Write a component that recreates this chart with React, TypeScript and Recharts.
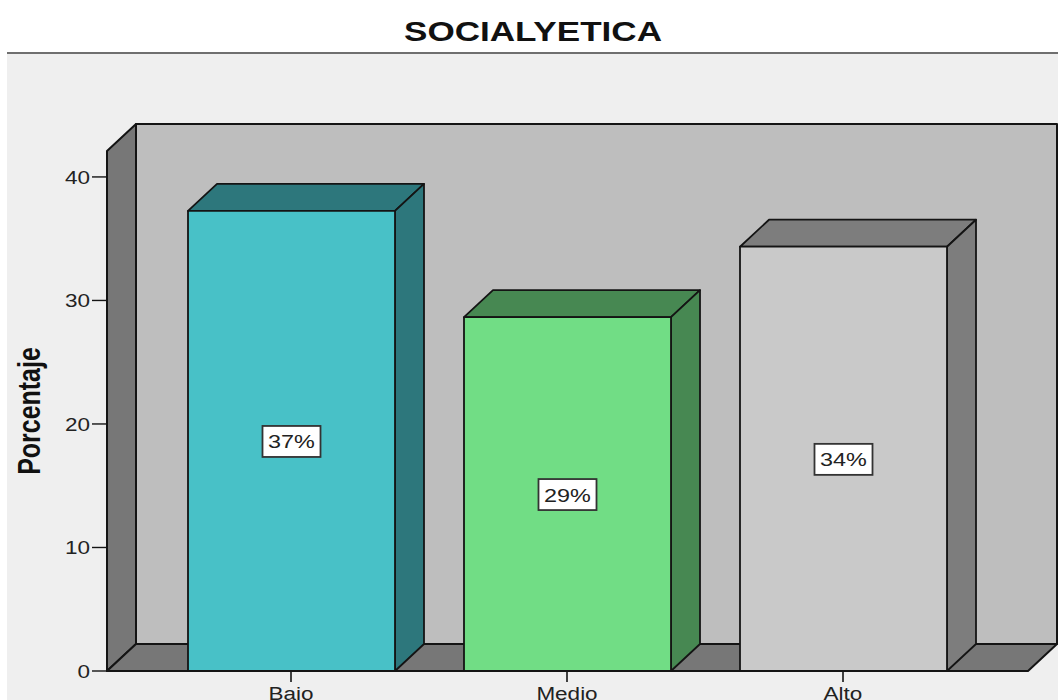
import { BarChart, Bar, XAxis, YAxis, LabelList, ReferenceArea } from "recharts";

const TITLE = "SOCIALYETICA";
const AXIS_LABEL = "Porcentaje";
const categories = ["Bajo", "Medio", "Alto"];
const values = [37.25, 28.65, 34.35];
const valueLabels = ["37%", "29%", "34%"];
const yTicks = [0, 10, 20, 30, 40];

const frontColors = ["#48c1c7", "#71dd85", "#c9c9c9"];
const sideColors = ["#2d777c", "#478852", "#7d7d7d"];

const data = categories.map((name, i) => ({ name, value: values[i], label: valueLabels[i] }));

const DX = 29;
const DY = 27;
const PAD_LEFT = 46;
const PAD_RIGHT = 47;
const LINE = "#141414";
const FONT = "'Liberation Sans', Arial, sans-serif";

// the reference area only spans the padded range, so widen it back to the full plot
function Walls({ x: ax, y, width: aw, height }: any) {
  const x = ax - PAD_LEFT;
  const width = aw + PAD_LEFT + PAD_RIGHT;
  const right = x + width;
  const bottom = y + height;
  return (
    <g stroke={LINE} strokeWidth={2} strokeLinejoin="round">
      <rect x={x + DX} y={y - DY} width={width} height={height} fill="#bebebe" />
      <polygon
        points={`${x},${y} ${x + DX},${y - DY} ${x + DX},${bottom - DY} ${x},${bottom}`}
        fill="#777777"
      />
      <polygon
        points={`${x},${bottom} ${x + DX},${bottom - DY} ${right + DX},${bottom - DY} ${right},${bottom}`}
        fill="#777777"
      />
    </g>
  );
}

function Bar3D({ x, y, width, height, index }: any) {
  return (
    <g stroke={LINE} strokeWidth={1.8} strokeLinejoin="round">
      <polygon
        points={`${x},${y} ${x + DX},${y - DY} ${x + width + DX},${y - DY} ${x + width},${y}`}
        fill={sideColors[index]}
      />
      <polygon
        points={`${x + width},${y} ${x + width + DX},${y - DY} ${x + width + DX},${y + height - DY} ${x + width},${y + height}`}
        fill={sideColors[index]}
      />
      <rect x={x} y={y} width={width} height={height} fill={frontColors[index]} />
    </g>
  );
}

function ValueBox({ x, y, width, height, value }: any) {
  const cx = x + width / 2;
  const cy = y + height / 2;
  return (
    <g>
      <rect x={cx - 29} y={cy - 15} width={58} height={31} fill="#ffffff" stroke="#333333" strokeWidth={1.8} />
      <text
        transform={`translate(${cx},${cy + 7.5}) scale(1.3,1)`}
        textAnchor="middle"
        fontFamily={FONT}
        fontSize={18}
        fill="#222222"
      >
        {value}
      </text>
    </g>
  );
}

function YTick({ x, y, payload }: any) {
  return (
    <text
      transform={`translate(${x},${y + 7}) scale(1.25,1)`}
      textAnchor="end"
      fontFamily={FONT}
      fontSize={18}
      fill="#222222"
    >
      {payload.value}
    </text>
  );
}

function XTick({ x, y, payload }: any) {
  return (
    <text
      transform={`translate(${x},${y + 16}) scale(1.25,1)`}
      textAnchor="middle"
      fontFamily={FONT}
      fontSize={18}
      fill="#222222"
    >
      {payload.value}
    </text>
  );
}

function AxisTitle({ viewBox }: any) {
  const cy = viewBox.y + viewBox.height / 2;
  return (
    <text
      transform={`translate(40,${cy}) rotate(-90) scale(0.78,1)`}
      textAnchor="middle"
      fontFamily={FONT}
      fontWeight="bold"
      fontSize={32}
      fill="#111111"
    >
      {AXIS_LABEL}
    </text>
  );
}

export default function App() {
  return (
    <div
      style={{
        position: "absolute",
        left: 0,
        top: 0,
        width: 1058,
        height: 700,
        overflow: "hidden",
        background: "#ffffff",
      }}
    >
      <div style={{ position: "absolute", left: 7, top: 54, right: 0, bottom: 0, background: "#efefef" }} />
      <div style={{ position: "absolute", left: 7, top: 52, right: 0, height: 2, background: "#6f6f6f" }} />
      <svg width={1058} height={50} style={{ position: "absolute", left: 0, top: 0 }}>
        <text
          x={533}
          y={41}
          textAnchor="middle"
          fontFamily={FONT}
          fontWeight="bold"
          fontSize={28}
          textLength={258}
          lengthAdjust="spacingAndGlyphs"
          fill="#111111"
        >
          {TITLE}
        </text>
      </svg>
      <div style={{ position: "absolute", left: 0, top: 0 }}>
        <BarChart
          width={1058}
          height={700}
          data={data}
          barSize={207}
          margin={{ top: 151, right: 30, bottom: 0, left: 0 }}
          style={{ overflow: "visible" }}
        >
          <XAxis
            dataKey="name"
            height={29}
            padding={{ left: PAD_LEFT, right: PAD_RIGHT }}
            axisLine={false}
            tickSize={11}
            tickLine={{ stroke: LINE, strokeWidth: 1.6 }}
            tick={<XTick />}
            interval={0}
          />
          <YAxis
            width={107}
            domain={[0, 42.1]}
            ticks={yTicks}
            axisLine={false}
            tickSize={15}
            tickLine={{ stroke: LINE, strokeWidth: 1.4 }}
            tick={<YTick />}
            label={{ content: <AxisTitle /> }}
          />
          <ReferenceArea y1={0} y2={42.1} ifOverflow="visible" shape={<Walls />} />
          <Bar dataKey="value" isAnimationActive={false} shape={<Bar3D />}>
            <LabelList dataKey="label" content={<ValueBox />} />
          </Bar>
        </BarChart>
      </div>
    </div>
  );
}
